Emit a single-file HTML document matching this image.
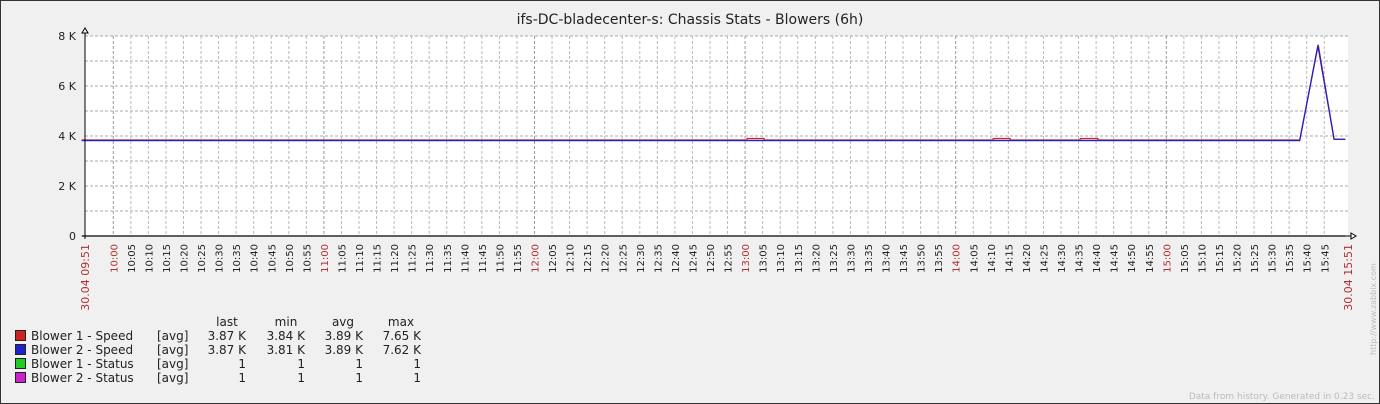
<!DOCTYPE html>
<html><head><meta charset="utf-8"><style>
html,body{margin:0;padding:0;background:#f0f0f0;}
svg{display:block;font-family:"DejaVu Sans","Liberation Sans",sans-serif;}
</style></head><body>
<svg id="chart" width="1380" height="404" xmlns="http://www.w3.org/2000/svg">
<rect x="0.5" y="0.5" width="1379" height="403" fill="#f0f0f0" stroke="#333"/>
<text x="690" y="24" text-anchor="middle" font-size="14" fill="#222">ifs-DC-bladecenter-s: Chassis Stats - Blowers (6h)</text>
<rect x="85" y="36" width="1263" height="200" fill="#fff"/>
<g id="grid"></g><g id="series"></g><g id="axes"></g>
<g font-size="12" fill="#222">
<text x="227" y="326" text-anchor="middle" fill="#222">last</text>
<text x="286" y="326" text-anchor="middle" fill="#222">min</text>
<text x="343" y="326" text-anchor="middle" fill="#222">avg</text>
<text x="401" y="326" text-anchor="middle" fill="#222">max</text>
</g>
<g id="legend-rows"></g>
<text x="1376" y="355" transform="rotate(-90 1376 355)" font-size="8" fill="#bbb">http://www.zabbix.com</text>
<text x="1375" y="399" text-anchor="end" font-size="9" fill="#bbb">Data from history. Generated in 0.23 sec.</text>
</svg>
<script>
// time in minutes since midnight, values in K
const blower1Times = [591,780.5,780.6,785.4,785.5,850.6,850.7,855.5,855.6,875.4,875.5,880.5,880.6,938,943.3,947.8,951];
const blower1Vals  = [3.84,3.84,3.9,3.9,3.84,3.84,3.9,3.9,3.84,3.84,3.9,3.9,3.84,3.84,7.65,3.87,3.87];
const blower2Times = [591,938,943.2,947.8,951];
const blower2Vals  = [3.82,3.82,7.62,3.87,3.87];
const status1Vals = [0.001,0.001];
const status2Vals = [0.001,0.001];
const statusTimes = [591,951];
const yTicks = [0,2,4,6,8];
const yTickLabels = ["0","2 K","4 K","6 K","8 K"];
const legendNames = ["Blower 1 - Speed","Blower 2 - Speed","Blower 1 - Status","Blower 2 - Status"];
const legendColors = ["#cc2222","#2222cc","#22cc22","#cc22cc"];
const legendLast = ["3.87 K","3.87 K","1","1"];
const legendMin = ["3.84 K","3.81 K","1","1"];
const legendAvg = ["3.89 K","3.89 K","1","1"];
const legendMax = ["7.65 K","7.62 K","1","1"];

const NS="http://www.w3.org/2000/svg";
const X0=85,X1=1348,Y0=236,Y1=36;
function xs(t){return 113.3+(t-600)*3.51;}
function ys(v){return Y0-(v/8)*(Y0-Y1);}
function mk(tag,attrs,parent){const e=document.createElementNS(NS,tag);for(const k in attrs)e.setAttribute(k,attrs[k]);parent.appendChild(e);return e;}
const grid=document.getElementById('grid'),axes=document.getElementById('axes'),ser=document.getElementById('series');
for(let v=1;v<=8;v++){
  const l=mk('line',{x1:X0,x2:X1,y1:ys(v),y2:ys(v),stroke:'#aaa','stroke-dasharray':'3,2'},grid);
  
  
}
yTicks.forEach((v,i)=>{
  const t=mk('text',{x:76,y:ys(v)+4,'text-anchor':'end','font-size':11,fill:'#222'},axes);
  t.textContent=yTickLabels[i];
  
  
});
for(let m=600;m<=945;m+=5){
  const x=xs(m),hour=m%60===0;
  const l=mk('line',{x1:x,x2:x,y1:Y1,y2:Y0,stroke:hour?'#999':'#bbb','stroke-dasharray':'3,2'},grid);
  
  
  const lab=String(Math.floor(m/60)).padStart(2,'0')+':'+String(m%60).padStart(2,'0');
  const t=mk('text',{x:x+4,y:244,transform:`rotate(-90 ${x+4} 244)`,'text-anchor':'end','font-size':10,fill:hour?'#b03030':'#222'},axes);
  t.textContent=lab;
  
  
}
[[X0,"30.04 09:51"],[X1,"30.04 15:51"]].forEach(([x,s])=>{
  const t=mk('text',{x:x+4,y:244,transform:`rotate(-90 ${x+4} 244)`,'text-anchor':'end','font-size':11,fill:'#b03030'},axes);
  t.textContent=s;
  
  
});
mk('line',{x1:X0,x2:X0,y1:30,y2:Y0+3,stroke:'#000'},axes);
mk('line',{x1:X0-3,x2:X1+6,y1:Y0,y2:Y0,stroke:'#000'},axes);
mk('path',{d:'M82,33 L85,28 L88,33 Z',fill:'#fff',stroke:'#000'},axes);
mk('path',{d:`M${X1+3},233 L${X1+8},236 L${X1+3},239 Z`,fill:'#fff',stroke:'#000'},axes);
function line(ts,vs,color,name){
  const p=ts.map((t,i)=>(i?'L':'M')+xs(t).toFixed(1)+','+ys(vs[i]).toFixed(1)).join(' ');
  const e=mk('path',{d:p,fill:'none',stroke:color,'stroke-width':1.2},ser);
  
  
}
line(statusTimes,status1Vals,'#22cc22','series-blower1-status');
line(statusTimes,status2Vals,'#cc22cc','series-blower2-status');
line(blower2Times,blower2Vals,'#2222cc','series-blower2-speed');
line(blower1Times,blower1Vals,'#cc2222','series-blower1-speed');
line(blower2Times,blower2Vals,'#2222cc','series-blower2-speed-overlay');
const lr=document.getElementById('legend-rows');
legendNames.forEach((n,i)=>{
  const y=340+i*14;
  const g=mk('g',{},lr);
  
  
  mk('rect',{x:15.5,y:y-9.5,width:10,height:10,fill:legendColors[i],stroke:'#222'},g);
  const cells=[[31,n,'start'],[157,'[avg]','start'],[246,legendLast[i],'end'],[305,legendMin[i],'end'],[363,legendAvg[i],'end'],[421,legendMax[i],'end']];
  cells.forEach(([x,s,a])=>{const t=mk('text',{x:x,y:y,'text-anchor':a,'font-size':12,fill:'#222'},g);t.textContent=s;});
});
</script>
</body></html>
